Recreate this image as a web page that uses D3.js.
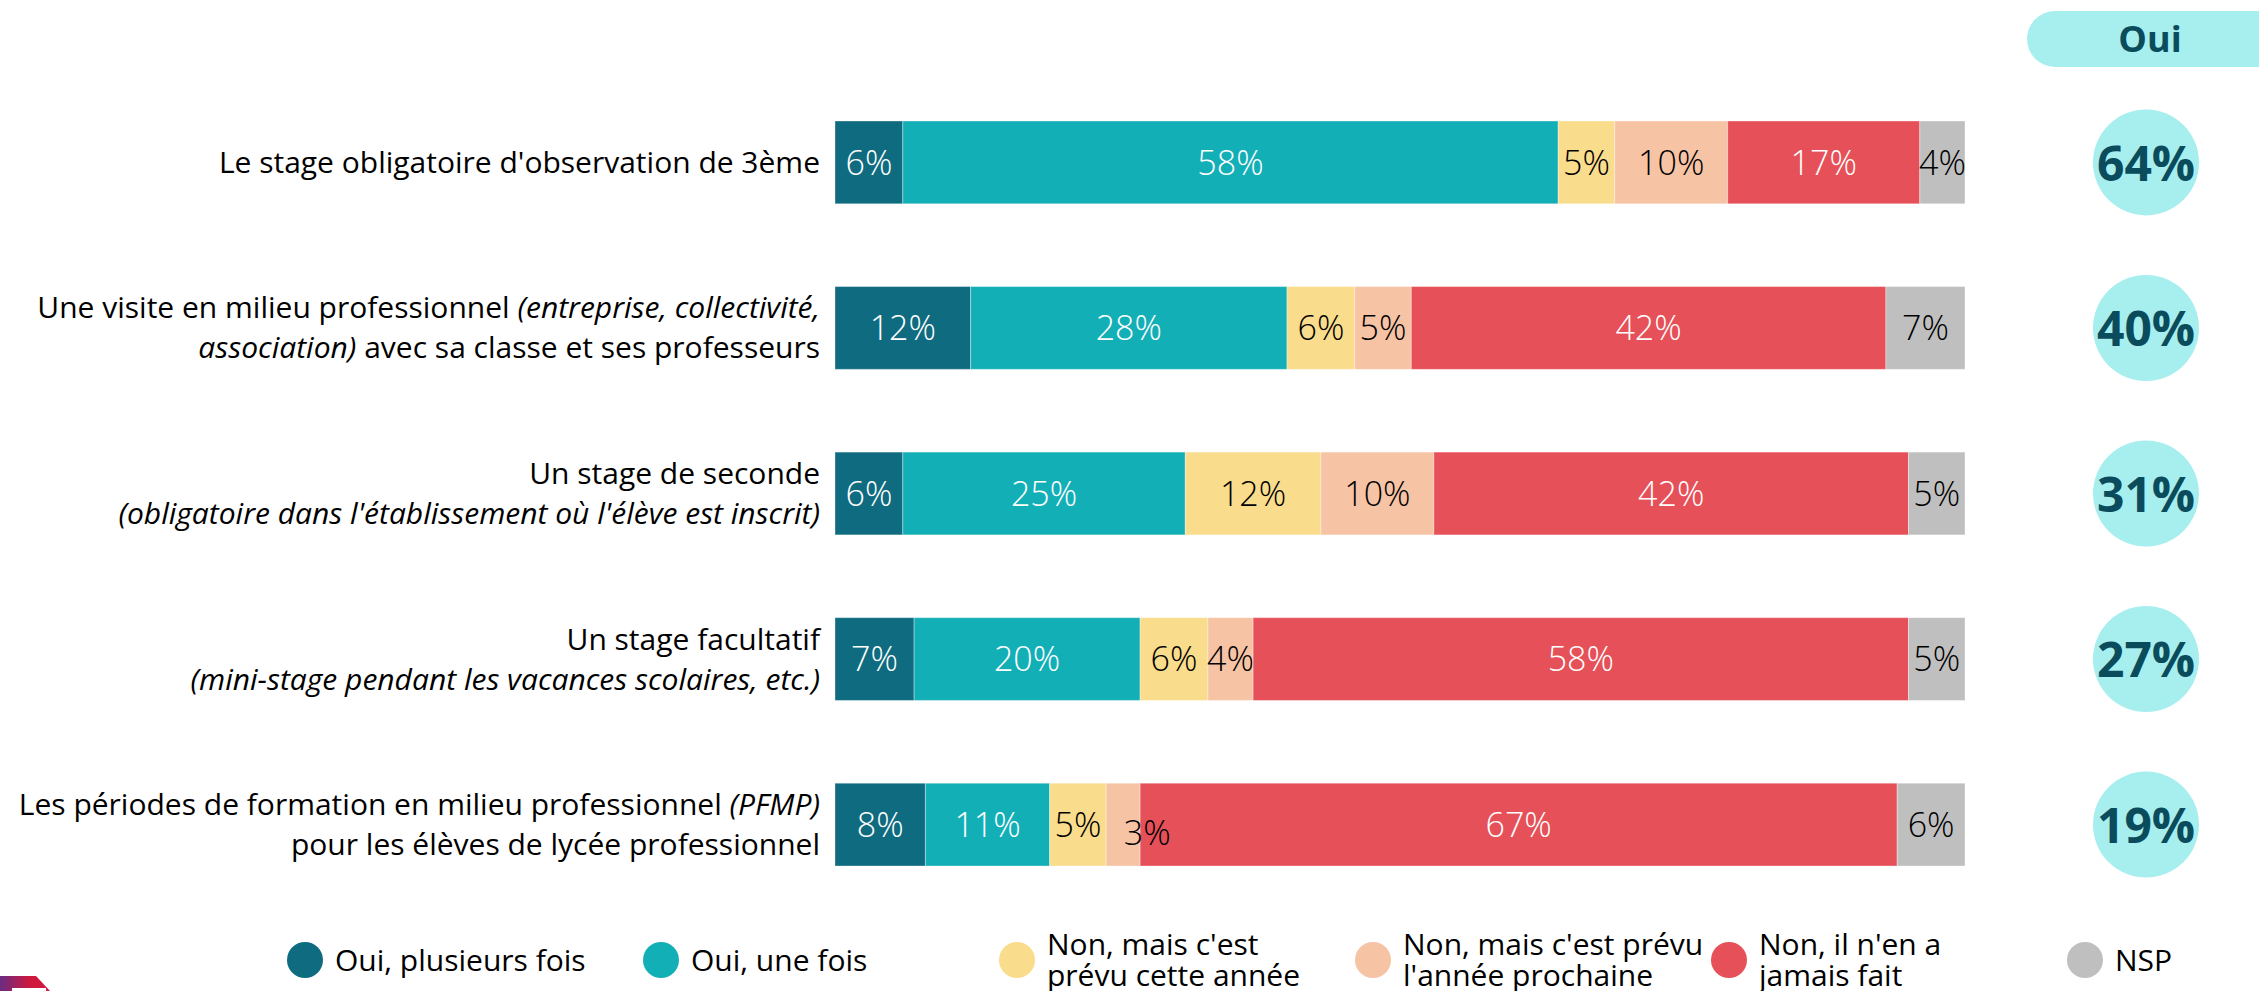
<!DOCTYPE html>
<html>
<head>
<meta charset="utf-8">
<script src="https://cdn.jsdelivr.net/npm/d3@7"></script>
<style>
  html, body { margin: 0; padding: 0; background: #fff; }
  svg { display: block; font-family: "Open Sans", "Noto Sans", sans-serif; }
</style>
</head>
<body>
<svg id="chart"></svg>
<script>
// categories, each one a list of lines, each line a list of [text, italic]
const categories = [
  [[["Le stage obligatoire d'observation de 3ème", false]]],
  [[["Une visite en milieu professionnel ", false], ["(entreprise, collectivité,", true]],
   [["association)", true], [" avec sa classe et ses professeurs", false]]],
  [[["Un stage de seconde", false]],
   [["(obligatoire dans l'établissement où l'élève est inscrit)", true]]],
  [[["Un stage facultatif", false]],
   [["(mini-stage pendant les vacances scolaires, etc.)", true]]],
  [[["Les périodes de formation en milieu professionnel ", false], ["(PFMP)", true]],
   [["pour les élèves de lycée professionnel", false]]]
];

const seriesNames = [
  "Oui, plusieurs fois",
  "Oui, une fois",
  "Non, mais c'est prévu cette année",
  "Non, mais c'est prévu l'année prochaine",
  "Non, il n'en a jamais fait",
  "NSP"
];
const legendLines = [
  ["Oui, plusieurs fois"],
  ["Oui, une fois"],
  ["Non, mais c'est", "prévu cette année"],
  ["Non, mais c'est prévu", "l'année prochaine"],
  ["Non, il n'en a", "jamais fait"],
  ["NSP"]
];

const ouiPlusieurs = [6, 12, 6, 7, 8];
const ouiUne       = [58, 28, 25, 20, 11];
const nonCetteAnnee = [5, 6, 12, 6, 5];
const nonAnneeProchaine = [10, 5, 10, 4, 3];
const nonJamais    = [17, 42, 42, 58, 67];
const nsp          = [4, 7, 5, 5, 6];
const ouiTotal     = [64, 40, 31, 27, 19];

const colors = ["#0f6b80", "#13afb7", "#f9dc8c", "#f7c3a5", "#e65058", "#bfbfbf"];
const labelColors = ["#fff", "#fff", "#000", "#000", "#fff", "#000"];

const width = 2259, height = 991;
const svg = d3.select('#chart').attr('width', width).attr('height', height);

const seriesValues = [ouiPlusieurs, ouiUne, nonCetteAnnee, nonAnneeProchaine, nonJamais, nsp];
const rows = categories.map((c, i) => {
  let row = { idx: i };
  seriesNames.forEach((s, j) => row[s] = seriesValues[j][i]);
  return row;
});
const stacked = d3.stack().keys(seriesNames)(rows);

//X and Y scaling
const x = d3.scaleLinear().domain([0, 100]).range([835, 1965]);
const y = d3.scaleBand().domain(d3.range(categories.length)).range([121, 866]).paddingInner(0.5).paddingOuter(0);
const color = d3.scaleOrdinal().domain(seriesNames).range(colors);

// bars
const layers = svg.append('g').attr('class', 'bars')
  .selectAll('g').data(stacked).join('g')
  .attr('fill', d => color(d.key));

layers.selectAll('rect').data(d => d).join('rect')
  .attr('x', d => x(d[0]))
  .attr('y', d => y(d.data.idx))
  .attr('width', d => x(d[1]) - x(d[0]))
  .attr('height', y.bandwidth())
  .attr('stroke', '#fff')
  .attr('stroke-opacity', 0.35)
  .attr('stroke-width', 1);

// value labels
stacked.forEach((layer, j) => {
  svg.append('g').selectAll('text').data(layer).join('text')
    .attr('x', d => {
      let cx = (x(d[0]) + x(d[1])) / 2;
      return (x(d[1]) - x(d[0]) < 40) ? cx + 24 : cx;
    })
    .attr('y', d => y(d.data.idx) + y.bandwidth() / 2 + ((x(d[1]) - x(d[0]) < 40) ? 8 : 0))
    .attr('dy', '0.36em')
    .attr('text-anchor', 'middle')
    .attr('font-size', 34)
    .attr('font-weight', 300)
    .attr('fill', labelColors[j])
    .text(d => (d[1] - d[0]) + '%');
});

// category labels
const catG = svg.append('g').attr('class', 'cats');
categories.forEach((lines, i) => {
  const cy = y(i) + y.bandwidth() / 2;
  const lh = 40;
  const t = catG.append('text')
    .attr('text-anchor', 'end')
    .attr('font-size', 30)
    .attr('fill', '#000');
  lines.forEach((line, k) => {
    const ly = cy + (k - (lines.length - 1) / 2) * lh;
    line.forEach((part, p) => {
      const ts = t.append('tspan')
        .attr('font-style', part[1] ? 'italic' : 'normal')
        .style('white-space', 'pre')
        .text(part[0]);
      if (p === 0) ts.attr('x', 820).attr('y', ly).attr('dy', '0.35em');
    });
  });
});

// "Oui" column
const ouiX = 2146;
svg.append('rect')
  .attr('x', 2027).attr('y', 11)
  .attr('width', 300).attr('height', 56)
  .attr('rx', 28)
  .attr('fill', '#a7eeee');
svg.append('text')
  .attr('x', ouiX + 4).attr('y', 39).attr('dy', '0.36em')
  .attr('text-anchor', 'middle')
  .attr('font-size', 36).attr('font-weight', 700)
  .attr('fill', '#0a4b5c')
  .text('Oui');

const ouiG = svg.append('g').selectAll('g').data(ouiTotal).join('g')
  .attr('transform', (d, i) => `translate(${ouiX},${y(i) + y.bandwidth() / 2})`);
ouiG.append('circle').attr('r', 53).attr('fill', '#a7eeee');
ouiG.append('text')
  .attr('text-anchor', 'middle')
  .attr('dy', '0.38em')
  .attr('font-size', 48).attr('font-weight', 700)
  .attr('fill', '#0a4b5c')
  .text(d => d + '%');

// legend
const lx = d3.scalePoint().domain(seriesNames).range([305, 2085]);
const legend = svg.append('g').attr('class', 'legend')
  .selectAll('g').data(seriesNames).join('g')
  .attr('transform', d => `translate(${lx(d)},960)`);
legend.append('circle').attr('r', 18).attr('fill', d => color(d));
legend.append('text')
  .attr('font-size', 30)
  .attr('fill', '#000')
  .each(function (d, i) {
    const lines = legendLines[i];
    d3.select(this).selectAll('tspan').data(lines).join('tspan')
      .attr('x', 30)
      .attr('y', (l, k) => (k - (lines.length - 1) / 2) * 31)
      .attr('dy', '0.36em')
      .text(l => l);
  });

// logo corner
const grad = svg.append('defs').append('linearGradient').attr('id', 'logoGrad');
grad.append('stop').attr('offset', '0%').attr('stop-color', '#6a2c82');
grad.append('stop').attr('offset', '60%').attr('stop-color', '#d0173e');
svg.append('path')
  .attr('d', 'M0,976 L36,976 L50,991 L0,991 Z')
  .attr('fill', 'url(#logoGrad)');
svg.append('rect').attr('x', 12).attr('y', 988).attr('width', 34).attr('height', 3).attr('fill', '#fff');
</script>
</body>
</html>
